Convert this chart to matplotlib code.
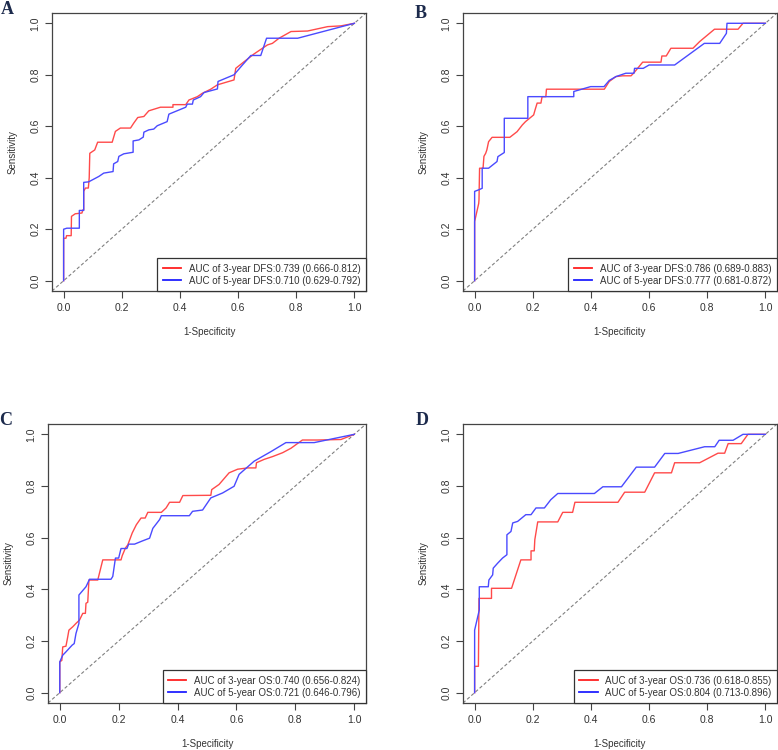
import matplotlib
matplotlib.use("Agg")
import matplotlib.pyplot as plt
from matplotlib.lines import Line2D

# ROC points (1-specificity, sensitivity)
a_fpr_3y = [0, 0, 0.008, 0.01, 0.026, 0.027, 0.04, 0.063, 0.066, 0.069, 0.069, 0.075, 0.085, 0.088, 0.09, 0.107, 0.117, 0.167, 0.178, 0.195, 0.23, 0.241, 0.255, 0.276, 0.293, 0.333, 0.376, 0.376, 0.42, 0.431, 0.46, 0.477, 0.506, 0.529, 0.586, 0.592, 0.621, 0.655, 0.701, 0.718, 0.741, 0.782, 0.839, 0.908, 0.954, 1]
a_tpr_3y = [0, 0.165, 0.165, 0.175, 0.175, 0.25, 0.26, 0.263, 0.275, 0.275, 0.347, 0.36, 0.36, 0.40, 0.495, 0.508, 0.538, 0.538, 0.58, 0.593, 0.593, 0.612, 0.634, 0.638, 0.66, 0.674, 0.674, 0.684, 0.684, 0.702, 0.715, 0.728, 0.744, 0.761, 0.78, 0.825, 0.851, 0.881, 0.916, 0.922, 0.942, 0.968, 0.97, 0.987, 0.99, 1]
a_fpr_5y = [0, 0, 0.011, 0.054, 0.054, 0.069, 0.069, 0.086, 0.121, 0.138, 0.17, 0.172, 0.186, 0.19, 0.207, 0.239, 0.239, 0.259, 0.274, 0.276, 0.293, 0.31, 0.322, 0.356, 0.362, 0.42, 0.425, 0.443, 0.446, 0.471, 0.483, 0.529, 0.531, 0.586, 0.615, 0.644, 0.678, 0.698, 0.805, 1]
a_tpr_5y = [0, 0.2, 0.204, 0.204, 0.273, 0.273, 0.382, 0.384, 0.405, 0.418, 0.424, 0.454, 0.463, 0.483, 0.493, 0.499, 0.543, 0.547, 0.558, 0.577, 0.586, 0.589, 0.602, 0.618, 0.647, 0.674, 0.686, 0.686, 0.702, 0.715, 0.731, 0.745, 0.774, 0.8, 0.838, 0.875, 0.875, 0.942, 0.942, 1]

b_fpr_3y = [0, 0, 0.014, 0.015, 0.017, 0.029, 0.032, 0.038, 0.042, 0.048, 0.06, 0.121, 0.146, 0.164, 0.175, 0.203, 0.208, 0.215, 0.228, 0.232, 0.245, 0.247, 0.446, 0.463, 0.486, 0.509, 0.538, 0.549, 0.578, 0.641, 0.644, 0.659, 0.675, 0.751, 0.774, 0.825, 0.906, 0.923, 1]
b_tpr_3y = [0, 0.23, 0.30, 0.314, 0.437, 0.437, 0.483, 0.495, 0.508, 0.54, 0.557, 0.557, 0.579, 0.605, 0.618, 0.644, 0.664, 0.69, 0.69, 0.715, 0.715, 0.744, 0.744, 0.774, 0.793, 0.796, 0.796, 0.809, 0.849, 0.849, 0.873, 0.873, 0.903, 0.903, 0.929, 0.977, 0.977, 1, 1]
b_fpr_5y = [0, 0, 0.014, 0.026, 0.026, 0.048, 0.077, 0.08, 0.102, 0.102, 0.183, 0.183, 0.341, 0.341, 0.399, 0.445, 0.463, 0.486, 0.52, 0.548, 0.55, 0.58, 0.6, 0.688, 0.79, 0.843, 0.866, 0.868, 1]
b_tpr_5y = [0, 0.347, 0.353, 0.359, 0.437, 0.437, 0.463, 0.482, 0.498, 0.631, 0.631, 0.715, 0.715, 0.735, 0.754, 0.754, 0.778, 0.793, 0.806, 0.806, 0.825, 0.825, 0.838, 0.838, 0.922, 0.922, 0.961, 1, 1]

c_fpr_3y = [0, 0, 0.007, 0.01, 0.021, 0.027, 0.031, 0.044, 0.055, 0.067, 0.078, 0.087, 0.089, 0.095, 0.099, 0.129, 0.146, 0.208, 0.212, 0.223, 0.231, 0.246, 0.26, 0.276, 0.29, 0.299, 0.345, 0.361, 0.373, 0.407, 0.418, 0.513, 0.516, 0.541, 0.575, 0.604, 0.638, 0.666, 0.668, 0.694, 0.723, 0.757, 0.785, 0.824, 0.875, 0.955, 1]
c_tpr_3y = [0, 0.119, 0.125, 0.177, 0.18, 0.216, 0.242, 0.255, 0.268, 0.281, 0.307, 0.307, 0.346, 0.35, 0.436, 0.436, 0.514, 0.514, 0.53, 0.56, 0.572, 0.618, 0.65, 0.676, 0.676, 0.698, 0.698, 0.715, 0.737, 0.737, 0.763, 0.764, 0.786, 0.806, 0.851, 0.865, 0.87, 0.87, 0.89, 0.903, 0.914, 0.929, 0.946, 0.978, 0.978, 0.98, 1]
c_fpr_5y = [0, 0, 0.01, 0.021, 0.042, 0.049, 0.055, 0.065, 0.065, 0.089, 0.101, 0.174, 0.18, 0.189, 0.2, 0.208, 0.228, 0.234, 0.254, 0.282, 0.305, 0.316, 0.339, 0.345, 0.44, 0.451, 0.485, 0.513, 0.553, 0.592, 0.609, 0.66, 0.717, 0.768, 0.864, 0.932, 1]
c_tpr_5y = [0, 0.119, 0.145, 0.158, 0.184, 0.19, 0.229, 0.268, 0.378, 0.41, 0.439, 0.439, 0.45, 0.521, 0.521, 0.558, 0.558, 0.575, 0.575, 0.588, 0.598, 0.636, 0.67, 0.685, 0.685, 0.702, 0.707, 0.754, 0.773, 0.799, 0.845, 0.896, 0.933, 0.968, 0.968, 0.984, 1]

d_fpr_3y = [0, 0, 0.013, 0.015, 0.058, 0.058, 0.127, 0.159, 0.194, 0.194, 0.205, 0.207, 0.217, 0.286, 0.303, 0.337, 0.345, 0.493, 0.516, 0.585, 0.619, 0.677, 0.688, 0.774, 0.837, 0.86, 0.872, 0.917, 0.94, 1]
d_tpr_3y = [0, 0.102, 0.102, 0.365, 0.365, 0.404, 0.404, 0.514, 0.514, 0.549, 0.549, 0.592, 0.661, 0.661, 0.698, 0.698, 0.737, 0.737, 0.776, 0.776, 0.851, 0.851, 0.89, 0.89, 0.927, 0.927, 0.964, 0.964, 1, 1]
d_fpr_5y = [0, 0, 0.016, 0.016, 0.047, 0.049, 0.062, 0.064, 0.079, 0.096, 0.111, 0.111, 0.125, 0.131, 0.148, 0.176, 0.194, 0.211, 0.24, 0.262, 0.286, 0.412, 0.441, 0.505, 0.556, 0.619, 0.654, 0.7, 0.791, 0.826, 0.841, 0.889, 0.923, 1]
d_tpr_5y = [0, 0.242, 0.32, 0.41, 0.41, 0.436, 0.456, 0.482, 0.501, 0.521, 0.534, 0.611, 0.624, 0.657, 0.663, 0.689, 0.689, 0.715, 0.715, 0.747, 0.771, 0.771, 0.797, 0.797, 0.873, 0.873, 0.926, 0.926, 0.952, 0.952, 0.977, 0.977, 1, 1]

panel_letters = ["A", "B", "C", "D"]
legend_3y = ["AUC of 3-year DFS:0.739 (0.666-0.812)", "AUC of 3-year DFS:0.786 (0.689-0.883)",
             "AUC of 3-year OS:0.740 (0.656-0.824)", "AUC of 3-year OS:0.736 (0.618-0.855)"]
legend_5y = ["AUC of 5-year DFS:0.710 (0.629-0.792)", "AUC of 5-year DFS:0.777 (0.681-0.872)",
             "AUC of 5-year OS:0.721 (0.646-0.796)", "AUC of 5-year OS:0.804 (0.713-0.896)"]
curves = [(a_fpr_3y, a_tpr_3y, a_fpr_5y, a_tpr_5y),
          (b_fpr_3y, b_tpr_3y, b_fpr_5y, b_tpr_5y),
          (c_fpr_3y, c_tpr_3y, c_fpr_5y, c_tpr_5y),
          (d_fpr_3y, d_tpr_3y, d_fpr_5y, d_tpr_5y)]

plt.rcParams["font.family"] = ["Liberation Sans", "DejaVu Sans"]

fig = plt.figure(figsize=(7.78, 7.5), dpi=100)

# axes boxes in pixels: left, top, right, bottom
boxes = [(52, 13, 366, 291), (463, 13, 777, 291),
         (48, 424, 366, 703), (463, 424, 777, 703)]
letter_pos = [(7, 10), (421, 13), (6, 420), (422, 420)]

ticks = [0.0, 0.2, 0.4, 0.6, 0.8, 1.0]
red_line = "#ff4a4a"
blue_line = "#4a4aff"

for i in range(4):
    l, t, r, b = boxes[i]
    ax = fig.add_axes([l / 778, 1 - b / 750, (r - l) / 778, (b - t) / 750])
    fx3, fy3, fx5, fy5 = curves[i]

    ax.axline((0, 0), (1, 1), color="#808080", lw=0.8, linestyle=(0, (3, 2)))
    ax.plot(fx3, fy3, color=red_line, lw=1.0)
    ax.plot(fx5, fy5, color=blue_line, lw=1.0)

    ax.set_xlim(-0.04, 1.04)
    ax.set_ylim(-0.04, 1.04)
    ax.set_xticks(ticks)
    ax.set_yticks(ticks)
    ax.set_xticklabels([f"{v:.1f}" for v in ticks])
    ax.set_yticklabels([f"{v:.1f}" for v in ticks], rotation=90, va="center")
    ax.tick_params(length=5, width=0.8, pad=3.5, labelsize=7.5,
                   colors="#444444", labelcolor="#333333")
    for s in ax.spines.values():
        s.set_color("#444444")
        s.set_linewidth(0.9)

    ax.set_xlabel("1-Specificity", fontsize=7, color="#333333", va="center")
    ax.set_ylabel("Sensitivity", fontsize=7, color="#333333", va="center")
    ax.xaxis.set_label_coords(0.5, -0.147)
    ax.yaxis.set_label_coords(-0.125, 0.5)

    handles = [Line2D([], [], color="#ff2020", lw=1.3),
               Line2D([], [], color="#2020ff", lw=1.3)]
    leg = ax.legend(handles, [legend_3y[i], legend_5y[i]], loc="lower right",
                    fontsize=7, frameon=True, fancybox=False, borderaxespad=0,
                    borderpad=0.55, labelspacing=0.2, handlelength=1.9,
                    handletextpad=0.8, framealpha=1)
    leg.get_frame().set_edgecolor("#333333")
    leg.get_frame().set_linewidth(0.9)
    for txt in leg.get_texts():
        txt.set_color("#333333")

    fig.text(letter_pos[i][0] / 778, 1 - letter_pos[i][1] / 750, panel_letters[i],
             family=["Liberation Serif", "DejaVu Serif"], fontweight="bold",
             fontsize=13, color="#1c2a4c", ha="center", va="center")

fig.savefig("out.png", dpi=100)
